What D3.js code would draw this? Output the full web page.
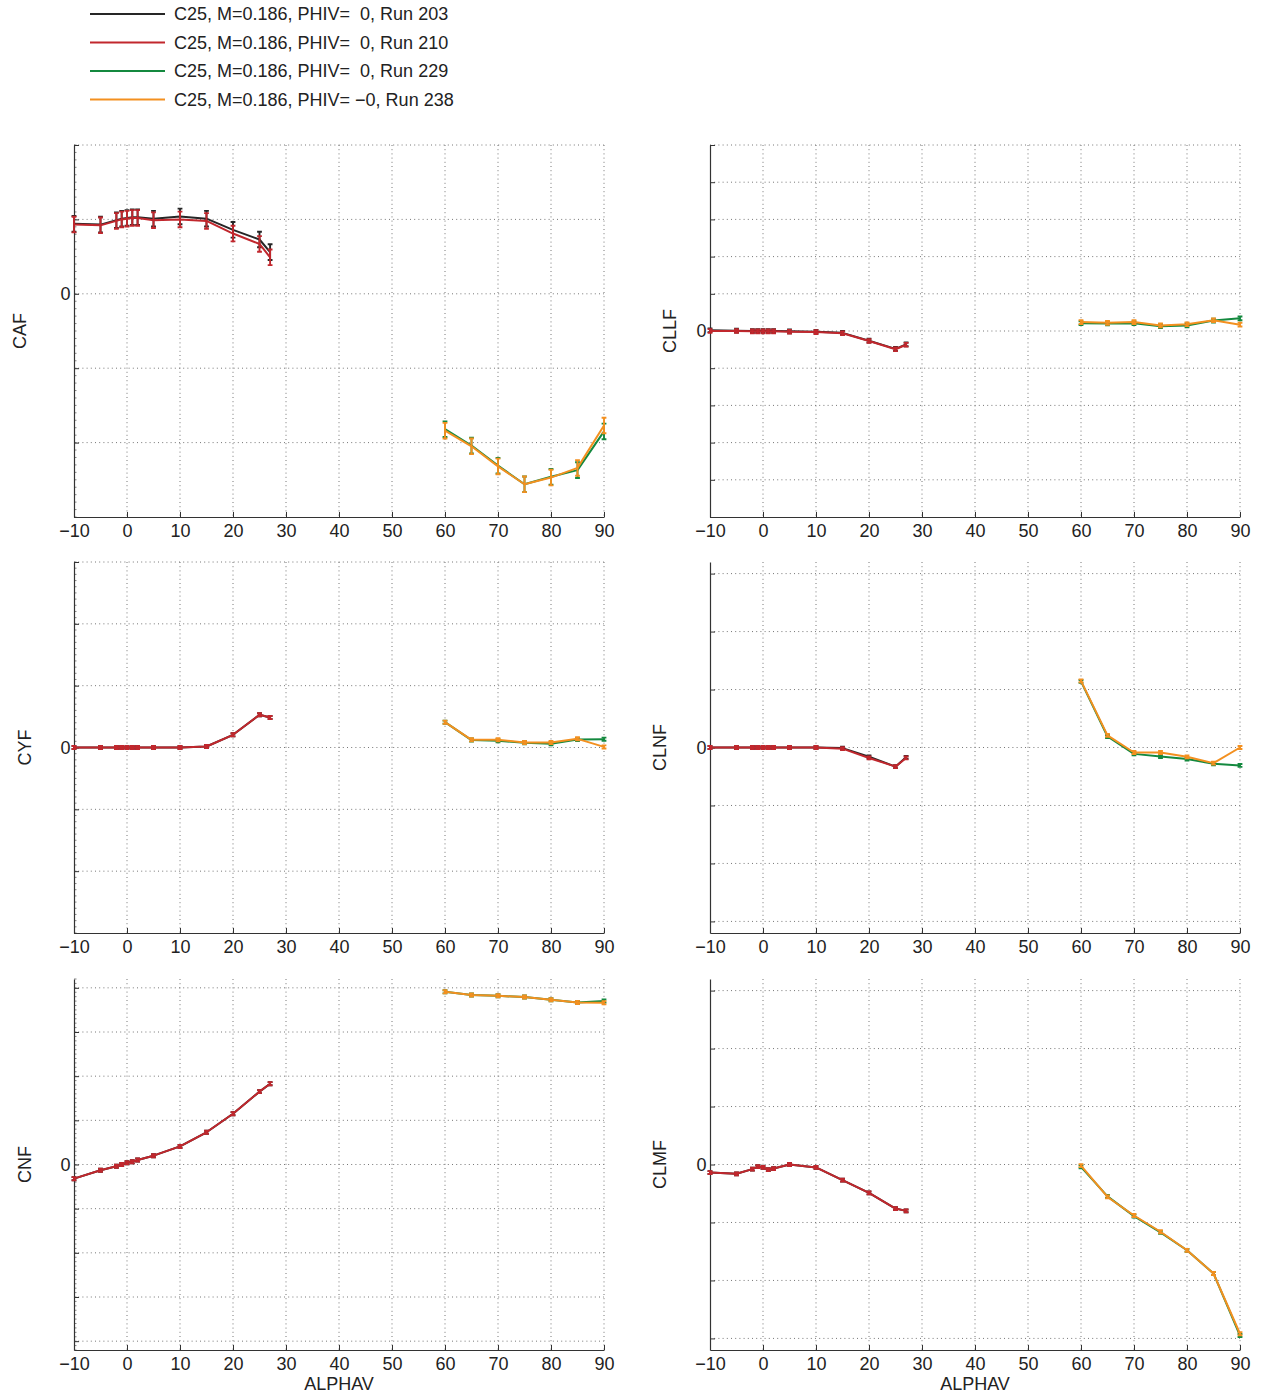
<!DOCTYPE html>
<html>
<head>
<meta charset="utf-8">
<script src="https://cdn.jsdelivr.net/npm/d3@7"></script>
<style>
  html, body { margin: 0; padding: 0; background: #fff; }
  svg { display: block; font-family: "Liberation Sans", Arial, Helvetica, sans-serif; }
  text { white-space: pre; }
</style>
</head>
<body>
<svg id="chart" width="1263" height="1397"></svg>
<script>
// Angles of attack swept by each pair of runs
const alphaLow = [-10, -5, -2, -1, 0, 1, 2, 5, 10, 15, 20, 25, 27];
const alphaHigh = [60, 65, 70, 75, 80, 85, 90];

// Run legend entries and colours
const runLabels = [
  "C25, M=0.186, PHIV=  0, Run 203",
  "C25, M=0.186, PHIV=  0, Run 210",
  "C25, M=0.186, PHIV=  0, Run 229",
  "C25, M=0.186, PHIV= \u22120, Run 238"
];
const runColors = ["#262626", "#c1272d", "#14893f", "#f39020"];

const xTicks = [-10, 0, 10, 20, 30, 40, 50, 60, 70, 80, 90];
const yTickLabels = ["0"];

// Coefficients, in units of one grid step of their panel
const caf203 = [0.94, 0.93, 0.99, 1.01, 1.02, 1.03, 1.03, 1.01, 1.04, 1.01, 0.86, 0.73, 0.56];
const caf210 = [0.93, 0.92, 0.98, 1.00, 1.01, 1.02, 1.02, 0.99, 1.00, 0.98, 0.81, 0.67, 0.49];
const caf229 = [-1.82, -2.04, -2.31, -2.56, -2.46, -2.37, -1.85];
const caf238 = [-1.84, -2.05, -2.32, -2.56, -2.47, -2.34, -1.77];

const cllf203 = [0.02, 0.01, 0.00, 0.00, 0.00, 0.00, 0.00, -0.01, -0.02, -0.05, -0.26, -0.48, -0.36];
const cllf210 = [0.00, 0.00, -0.01, -0.01, -0.01, -0.01, -0.01, -0.02, -0.03, -0.06, -0.27, -0.49, -0.37];
const cllf229 = [0.21, 0.20, 0.21, 0.13, 0.15, 0.28, 0.34];
const cllf238 = [0.24, 0.22, 0.24, 0.15, 0.18, 0.29, 0.17];

const cyf203 = [0, 0, 0, 0, 0, 0, 0, 0, 0, 0.016, 0.205, 0.53, 0.485];
const cyf210 = [0, 0, 0, 0, 0, 0, 0, 0, 0, 0.016, 0.205, 0.53, 0.485];
const cyf229 = [0.41, 0.12, 0.11, 0.075, 0.06, 0.13, 0.135];
const cyf238 = [0.41, 0.124, 0.124, 0.08, 0.08, 0.14, 0.01];

const clnf203 = [0, 0, 0, 0, 0, 0, 0, 0, 0, -0.01, -0.16, -0.33, -0.17];
const clnf210 = [0, 0, 0, 0, 0, 0, 0, 0, 0, -0.02, -0.18, -0.33, -0.18];
const clnf229 = [1.14, 0.19, -0.11, -0.155, -0.20, -0.28, -0.31];
const clnf238 = [1.15, 0.21, -0.086, -0.086, -0.16, -0.27, 0.0];

const cnf203 = [-0.32, -0.13, -0.04, 0.0, 0.04, 0.06, 0.10, 0.20, 0.41, 0.73, 1.15, 1.65, 1.83];
const cnf210 = [-0.32, -0.13, -0.04, 0.0, 0.04, 0.06, 0.10, 0.20, 0.41, 0.73, 1.15, 1.65, 1.83];
const cnf229 = [3.91, 3.84, 3.82, 3.79, 3.73, 3.67, 3.70];
const cnf238 = [3.91, 3.84, 3.82, 3.79, 3.73, 3.67, 3.66];

const clmf203 = [-0.14, -0.16, -0.08, -0.035, -0.05, -0.09, -0.07, 0.0, -0.05, -0.27, -0.49, -0.76, -0.80];
const clmf210 = [-0.14, -0.16, -0.08, -0.035, -0.05, -0.09, -0.07, 0.0, -0.05, -0.27, -0.49, -0.76, -0.80];
const clmf229 = [-0.04, -0.55, -0.89, -1.17, -1.48, -1.88, -2.95];
const clmf238 = [-0.02, -0.56, -0.88, -1.16, -1.48, -1.88, -2.92];

// Measurement uncertainty (half-width of error bar, grid-step units)
const errCAF = 0.105, errCLLF = 0.05, errCYF = 0.025, errCLNF = 0.025, errCNF = 0.035, errCLMF = 0.025;

const panels = [
  { name: "CAF",  col: 0, row: 0, dom: [-3, 2],     ticks: [-3, -2, -1, 0, 1, 2],            minor: true,  labelX: 20,  err: errCAF,
    series: [caf203, caf210, caf229, caf238] },
  { name: "CLLF", col: 1, row: 0, dom: [-5, 5],     ticks: [-5, -4, -3, -2, -1, 0, 1, 2, 3, 4, 5], minor: false, labelX: 670, err: errCLLF,
    series: [cllf203, cllf210, cllf229, cllf238] },
  { name: "CYF",  col: 0, row: 1, dom: [-3, 3],     ticks: [-3, -2, -1, 0, 1, 2, 3],          minor: true,  labelX: 25,  err: errCYF,
    series: [cyf203, cyf210, cyf229, cyf238] },
  { name: "CLNF", col: 1, row: 1, dom: [-3.2, 3.2], ticks: [-3, -2, -1, 0, 1, 2, 3],          minor: false, labelX: 660, err: errCLNF,
    series: [clnf203, clnf210, clnf229, clnf238] },
  { name: "CNF",  col: 0, row: 2, dom: [-4.2, 4.2], ticks: [-4, -3, -2, -1, 0, 1, 2, 3, 4],   minor: true,  labelX: 25,  err: errCNF,
    series: [cnf203, cnf210, cnf229, cnf238] },
  { name: "CLMF", col: 1, row: 2, dom: [-3.2, 3.2], ticks: [-3, -2, -1, 0, 1, 2, 3],          minor: false, labelX: 660, err: errCLMF,
    series: [clmf203, clmf210, clmf229, clmf238] }
];

// Page layout
const colX = [[74, 604], [710, 1240]];
const rowY = [[145, 517], [562, 933], [979, 1350]];
const fontSize = 18;

const svg = d3.select("#chart");

// Legend
const legend = svg.append("g");
runLabels.forEach((lab, i) => {
  const y = 14 + i * 28.5;
  legend.append("line").attr("x1", 90).attr("x2", 165).attr("y1", y).attr("y2", y)
    .attr("stroke", runColors[i]).attr("stroke-width", 1.8);
  legend.append("text").attr("x", 174).attr("y", y).attr("dy", "0.35em")
    .attr("font-size", fontSize).attr("fill", "#222").text(lab);
});

panels.forEach(p => {
  const [x0, x1] = colX[p.col];
  const [y0, y1] = rowY[p.row];
  const x = d3.scaleLinear().domain([-10, 90]).range([x0, x1]);
  const y = d3.scaleLinear().domain(p.dom).range([y1, y0]);
  const g = svg.append("g");

  // Dotted grid
  const grid = g.append("g").attr("stroke", "#777").attr("stroke-width", 1)
    .attr("stroke-dasharray", "1,3.2");
  xTicks.filter(t => t > -10).forEach(t => {
    grid.append("line").attr("x1", x(t)).attr("x2", x(t)).attr("y1", y0).attr("y2", y1);
  });
  p.ticks.filter(t => y(t) < y1 - 1).forEach(t => {
    grid.append("line").attr("x1", x0).attr("x2", x1).attr("y1", y(t)).attr("y2", y(t));
  });

  // Minor ticks on the value axis
  if (p.minor) {
    const minors = d3.range(Math.ceil(p.dom[0] * 10), Math.floor(p.dom[1] * 10) + 1).map(v => v / 10);
    g.append("g").selectAll("line").data(minors).join("line")
      .attr("x1", x0).attr("x2", x0 + 2.5)
      .attr("y1", d => y(d)).attr("y2", d => y(d))
      .attr("stroke", "#666").attr("stroke-width", 0.8);
  }

  // Axes
  const yAxis = d3.axisLeft(y).tickValues(p.ticks).tickSizeInner(-5).tickSizeOuter(0)
    .tickPadding(3.5).tickFormat(d => (d === 0 ? yTickLabels[0] : ""));
  const ya = g.append("g").attr("transform", `translate(${x0},0)`).call(yAxis);
  const xAxis = d3.axisBottom(x).tickValues(xTicks).tickSizeInner(-5).tickSizeOuter(0)
    .tickPadding(4).tickFormat(d => (d < 0 ? "\u2212" + Math.abs(d) : String(d)));
  const xa = g.append("g").attr("transform", `translate(0,${y1})`).call(xAxis);
  [ya, xa].forEach(a => {
    a.select(".domain").attr("stroke", "#333").attr("stroke-width", 1.2);
    a.selectAll(".tick line").attr("stroke", "#333");
    a.selectAll(".tick text").attr("font-size", fontSize).attr("fill", "#222")
      .attr("font-family", "'Liberation Sans', Arial, sans-serif");
  });
  xa.selectAll(".tick text").attr("dy", "0.88em");

  // Coefficient label
  g.append("text")
    .attr("transform", `translate(${p.labelX},${(y0 + y1) / 2}) rotate(-90)`)
    .attr("text-anchor", "middle").attr("dy", "0.35em")
    .attr("font-size", fontSize).attr("fill", "#222").text(p.name);

  // Data: runs 203/210 cover the low-alpha sweep, 229/238 the high-alpha sweep
  const line = d3.line().x(d => x(d[0])).y(d => y(d[1]));
  p.series.forEach((vals, i) => {
    const alphas = i < 2 ? alphaLow : alphaHigh;
    const pts = alphas.map((a, k) => [a, vals[k]]);
    const sg = g.append("g").attr("stroke", runColors[i]).attr("fill", "none");
    sg.append("path").attr("d", line(pts)).attr("stroke-width", 2)
      .attr("stroke-linejoin", "round");
    const cap = 2.4;
    sg.selectAll("path.eb").data(pts).join("path").attr("class", "eb")
      .attr("stroke-width", 1.9)
      .attr("d", d => {
        const cx = x(d[0]), top = y(d[1] + p.err), bot = y(d[1] - p.err);
        return `M${cx},${top}V${bot}M${cx - cap},${top}H${cx + cap}M${cx - cap},${bot}H${cx + cap}`;
      });
  });

  // Shared abscissa label below the bottom row
  if (p.row === 2) {
    g.append("text").attr("x", (x0 + x1) / 2).attr("y", 1384).attr("dy", "0.35em")
      .attr("text-anchor", "middle").attr("font-size", fontSize).attr("fill", "#222")
      .text("ALPHAV");
  }
});
</script>
</body>
</html>
